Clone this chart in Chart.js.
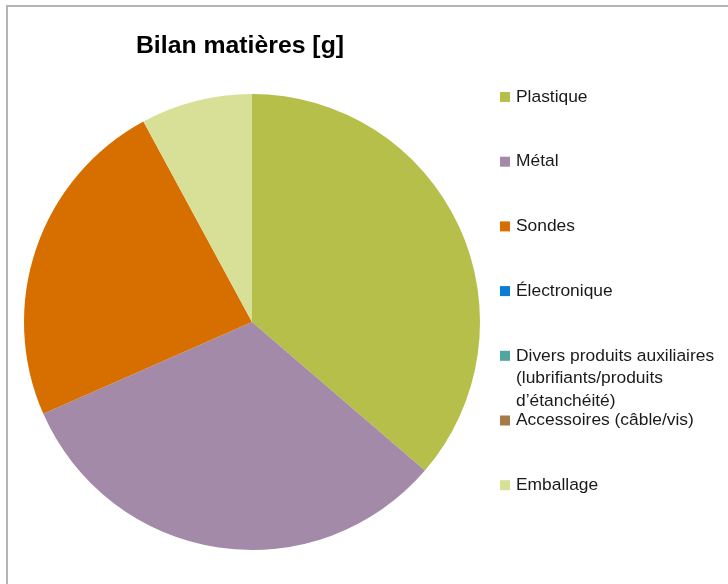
<!DOCTYPE html>
<html>
<head>
<meta charset="utf-8">
<title>Bilan matières [g]</title>
<script src="https://cdn.jsdelivr.net/npm/chart.js@4/dist/chart.umd.min.js"></script>
<style>
  html, body { margin: 0; padding: 0; background: #fff; }
  #wrap { position: relative; width: 728px; height: 584px; }
</style>
</head>
<body>
<div id="wrap"><canvas id="chart" width="728" height="584"></canvas></div>
<script>
// Bilan matières, share of mass per category
const categories = [
  'Plastique',
  'Métal',
  'Sondes',
  'Électronique',
  ['Divers produits auxiliaires', '(lubrifiants/produits', 'd’étanchéité)'],
  'Accessoires (câble/vis)',
  'Emballage'
];
const masses = [36.3, 32.1, 23.7, 0, 0, 0, 7.9];
const colors = ['#b5bf4a', '#a48aa9', '#d66f00', '#0a7ed6', '#4fa69e', '#a57b4a', '#d8e098'];
const chartTitle = 'Bilan matières [g]';

const FONT = "'Liberation Sans', sans-serif";

// frame, title and the hand-spaced legend on the right
const decor = {
  id: 'decor',
  beforeDraw(chart) {
    const ctx = chart.ctx;
    ctx.save();
    ctx.fillStyle = '#b4b4b4';
    ctx.fillRect(6, 5, chart.width - 6, 2);
    ctx.fillRect(6, 5, 2, chart.height - 5);
    ctx.restore();
  },
  afterDraw(chart) {
    const ctx = chart.ctx;
    ctx.save();
    ctx.fillStyle = '#000';
    ctx.font = "bold 24.8px " + FONT;
    ctx.textAlign = 'center';
    ctx.textBaseline = 'alphabetic';
    ctx.fillText(chartTitle, 240, 53);

    ctx.font = "17.4px " + FONT;
    ctx.textAlign = 'left';
    ctx.textBaseline = 'middle';
    const labels = chart.data.labels;
    const bg = chart.data.datasets[0].backgroundColor;
    labels.forEach((lab, i) => {
      const cy = 97 + i * 64.7;
      ctx.fillStyle = bg[i];
      ctx.fillRect(500, cy - 5, 10, 10);
      ctx.fillStyle = '#1a1a1a';
      const lines = Array.isArray(lab) ? lab : [lab];
      lines.forEach((t, k) => ctx.fillText(t, 516, cy + k * 22.7));
    });
    ctx.restore();
  }
};

new Chart(document.getElementById('chart'), {
  type: 'pie',
  data: {
    labels: categories,
    datasets: [{
      data: masses,
      backgroundColor: colors,
      borderWidth: 0
    }]
  },
  options: {
    responsive: false,
    animation: false,
    layout: {
      padding: { left: 24, right: 248, top: 94, bottom: 34 }
    },
    plugins: {
      legend: { display: false },
      title: { display: false },
      tooltip: { enabled: false }
    }
  },
  plugins: [decor]
});
</script>
</body>
</html>
